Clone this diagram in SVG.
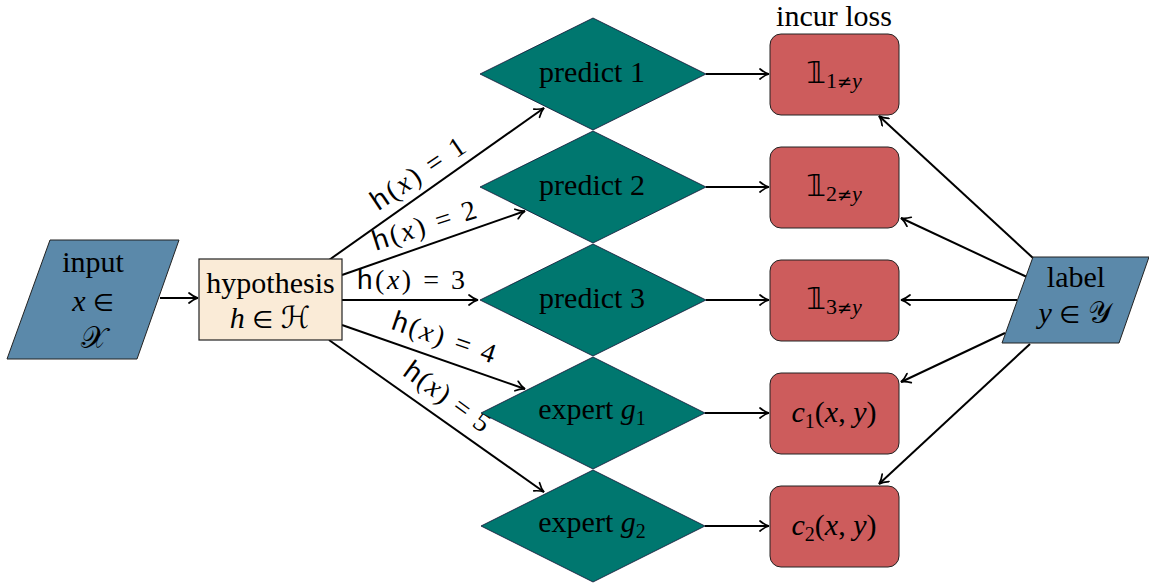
<svg xmlns="http://www.w3.org/2000/svg" width="1149" height="583" viewBox="0 0 1149 583">
<defs>
<marker id="arr" viewBox="-11 -6 13 12" markerWidth="13" markerHeight="12" markerUnits="userSpaceOnUse" refX="0" refY="0" orient="auto">
<path d="M -9 -5 C -6 -2.5, -2.5 -0.6, 0 0 C -2.5 0.6, -6 2.5, -9 5" fill="none" stroke="#000" stroke-width="1.7" stroke-linecap="round"/>
</marker>
</defs>
<style>
.t{font-family:"Liberation Serif","DejaVu Serif",serif;font-size:30px;fill:#000}
.m{font-family:"Liberation Serif","DejaVu Serif",serif;font-style:italic}
.s{font-family:"DejaVu Sans","Noto Sans",sans-serif;font-style:normal}
.sf{font-family:"Liberation Sans","DejaVu Sans",sans-serif}
.el{font-family:"Liberation Serif","DejaVu Serif",serif;font-size:28px;fill:#000}
.io{fill:#5b89aa;stroke:#222;stroke-width:1}
.hy{fill:#faebd7;stroke:#222;stroke-width:1.2}
.dm{fill:#00776f;stroke:#113;stroke-width:0.8}
.bx{fill:#cd5c5c;stroke:#222;stroke-width:1}
.e{stroke:#000;stroke-width:2;fill:none;marker-end:url(#arr)}
</style>
<rect width="1149" height="583" fill="#fff"/>

<g id="connectors">
<line class="e" x1="160" y1="298" x2="198" y2="298"/>
<line class="e" x1="329" y1="260" x2="544" y2="108"/>
<line class="e" x1="342" y1="275" x2="525" y2="211"/>
<line class="e" x1="342" y1="300" x2="478" y2="300"/>
<line class="e" x1="342" y1="325" x2="525" y2="389"/>
<line class="e" x1="329" y1="340" x2="544" y2="492"/>
<line class="e" x1="706" y1="74" x2="769" y2="74"/>
<line class="e" x1="706" y1="187" x2="769" y2="187"/>
<line class="e" x1="706" y1="300" x2="769" y2="300"/>
<line class="e" x1="705" y1="413" x2="769" y2="413"/>
<line class="e" x1="705" y1="526" x2="769" y2="526"/>
<line class="e" x1="1033" y1="258" x2="879" y2="116"/>
<line class="e" x1="1027" y1="277" x2="901" y2="218"/>
<line class="e" x1="1017" y1="300" x2="901" y2="300"/>
<line class="e" x1="1005" y1="333" x2="901" y2="382"/>
<line class="e" x1="1030" y1="344" x2="879" y2="484"/>
<text class="el" transform="translate(423,181) rotate(-34)" text-anchor="middle" textLength="108" lengthAdjust="spacing"><tspan class="sf">h</tspan>(<tspan class="m">x</tspan>) = 1</text>
<text class="el" transform="translate(427,234) rotate(-18)" text-anchor="middle" textLength="108" lengthAdjust="spacing"><tspan class="sf">h</tspan>(<tspan class="m">x</tspan>) = 2</text>
<text class="el" transform="translate(411,289)" text-anchor="middle" textLength="108" lengthAdjust="spacing"><tspan class="sf">h</tspan>(<tspan class="m">x</tspan>) = 3</text>
<text class="el" transform="translate(441,346) rotate(19)" text-anchor="middle" textLength="108" lengthAdjust="spacing"><tspan class="sf">h</tspan>(<tspan class="m">x</tspan>) = 4</text>
<text class="el" transform="translate(442,404) rotate(36)" text-anchor="middle" textLength="100" lengthAdjust="spacing"><tspan class="sf">h</tspan>(<tspan class="m">x</tspan>) = 5</text>
</g>

<g id="input">
<polygon class="io" points="50,240 179,240 137,359 7,359"/>
<text class="t" x="93" y="272" text-anchor="middle">input</text>
<text class="t" x="93" y="311" text-anchor="middle"><tspan class="m">x</tspan> <tspan class="s" font-size="24">∈</tspan></text>
<text class="t" x="94" y="348" text-anchor="middle"><tspan class="s">𝒳</tspan></text>
</g>

<g id="hypothesis">
<rect class="hy" x="199" y="259" width="143" height="81"/>
<text class="t" x="270.5" y="293" text-anchor="middle">hypothesis</text>
<text class="t" x="270" y="328" text-anchor="middle"><tspan class="m">h</tspan> <tspan class="s" font-size="24">∈</tspan> <tspan class="s">ℋ</tspan></text>
</g>

<g id="predict1">
<polygon class="dm" points="593,18 706,74 593,130 480,74"/>
<text class="t" x="592" y="82" text-anchor="middle">predict 1</text>
</g>
<g id="predict2">
<polygon class="dm" points="593,131 706,187 593,243 480,187"/>
<text class="t" x="592" y="195" text-anchor="middle">predict 2</text>
</g>
<g id="predict3">
<polygon class="dm" points="593,244 706,300 593,356 480,300"/>
<text class="t" x="592" y="308" text-anchor="middle">predict 3</text>
</g>
<g id="expert1">
<polygon class="dm" points="593,357 705,413 593,469 481,413"/>
<text class="t" x="592" y="419" text-anchor="middle">expert <tspan class="m">g</tspan><tspan font-size="20" dy="6">1</tspan></text>
</g>
<g id="expert2">
<polygon class="dm" points="593,470 705,526 593,582 481,526"/>
<text class="t" x="592" y="532" text-anchor="middle">expert <tspan class="m">g</tspan><tspan font-size="20" dy="6">2</tspan></text>
</g>

<g id="incur-loss">
<text class="t" x="834" y="26" text-anchor="middle" font-size="28">incur loss</text>
</g>
<g id="loss1">
<rect class="bx" x="770" y="34" width="129" height="81" rx="11"/>
<text class="t" x="834" y="83" text-anchor="middle"><tspan class="s" font-size="31">𝟙</tspan><tspan font-size="22" dy="5">1</tspan><tspan class="s" font-size="18">≠</tspan><tspan class="m" font-size="22">y</tspan></text>
</g>
<g id="loss2">
<rect class="bx" x="770" y="147" width="129" height="81" rx="11"/>
<text class="t" x="834" y="196" text-anchor="middle"><tspan class="s" font-size="31">𝟙</tspan><tspan font-size="22" dy="5">2</tspan><tspan class="s" font-size="18">≠</tspan><tspan class="m" font-size="22">y</tspan></text>
</g>
<g id="loss3">
<rect class="bx" x="770" y="260" width="129" height="81" rx="11"/>
<text class="t" x="834" y="309" text-anchor="middle"><tspan class="s" font-size="31">𝟙</tspan><tspan font-size="22" dy="5">3</tspan><tspan class="s" font-size="18">≠</tspan><tspan class="m" font-size="22">y</tspan></text>
</g>
<g id="cost1">
<rect class="bx" x="770" y="373" width="129" height="81" rx="11"/>
<text class="t" x="834" y="422" text-anchor="middle"><tspan class="m">c</tspan><tspan font-size="20" dy="6">1</tspan><tspan dy="-6">(</tspan><tspan class="m">x</tspan>, <tspan class="m">y</tspan>)</text>
</g>
<g id="cost2">
<rect class="bx" x="770" y="486" width="129" height="81" rx="11"/>
<text class="t" x="834" y="535" text-anchor="middle"><tspan class="m">c</tspan><tspan font-size="20" dy="6">2</tspan><tspan dy="-6">(</tspan><tspan class="m">x</tspan>, <tspan class="m">y</tspan>)</text>
</g>

<g id="label">
<polygon class="io" points="1033,257 1149,257 1119,343 1002,343"/>
<text class="t" x="1076" y="287" text-anchor="middle">label</text>
<text class="t" x="1075" y="323" text-anchor="middle"><tspan class="m">y</tspan> <tspan class="s" font-size="24">∈</tspan> <tspan class="s">𝒴</tspan></text>
</g>
</svg>
